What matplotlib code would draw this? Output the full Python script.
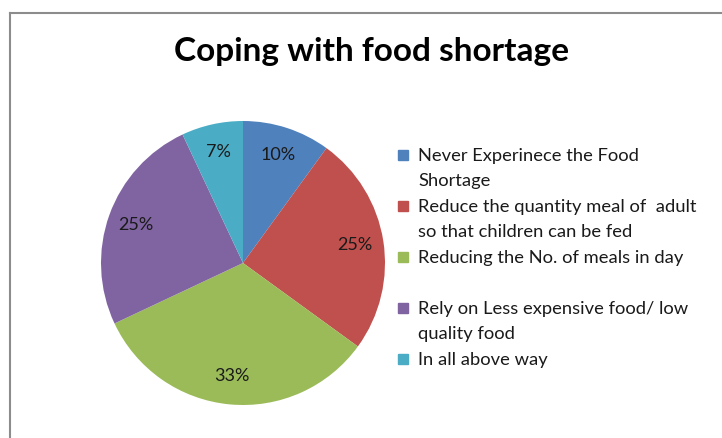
import matplotlib
matplotlib.use("Agg")
import matplotlib.pyplot as plt
from matplotlib.lines import Line2D
from matplotlib.patches import Rectangle

categories = [
    "Never Experinece the Food\nShortage",
    "Reduce the quantity meal of  adult\nso that children can be fed",
    "Reducing the No. of meals in day",
    "Rely on Less expensive food/ low\nquality food",
    "In all above way",
]
shares = [10, 25, 33, 25, 7]
colors = ["#4F81BD", "#C0504D", "#9BBB59", "#8064A2", "#4BACC6"]
title = "Coping with food shortage"

W, H = 722, 438
fig = plt.figure(figsize=(W / 100, H / 100), dpi=100)
plt.rcParams["font.family"] = ["Lato", "DejaVu Sans"]

# chart-area border (left and top edges visible)
fig.add_artist(Line2D([9.5 / W, 9.5 / W], [0, 1 - 12.5 / H], color="#8c8c8c", lw=1.5,
                      transform=fig.transFigure))
fig.add_artist(Line2D([9.5 / W, 1], [1 - 12.5 / H, 1 - 12.5 / H], color="#8c8c8c", lw=1.5,
                      transform=fig.transFigure))

cx, cy, r = 243, 263, 142
ax = fig.add_axes([(cx - r) / W, (H - cy - r) / H, 2 * r / W, 2 * r / H])
wedges, texts, autotexts = ax.pie(
    shares, colors=colors, startangle=90, counterclock=False,
    autopct=lambda p: f"{p:.0f}%", pctdistance=0.8,
    wedgeprops=dict(linewidth=0), textprops=dict(fontsize=13, color="#1a1a1a"))
ax.set_xlim(-1, 1)
ax.set_ylim(-1, 1)
ax.set_aspect("auto")
ax.axis("off")

fig.text(372 / W, 1 - 52 / H, title, ha="center", va="center",
         fontsize=24, fontweight="bold", color="black")

# legend, one slot per category
x_box, x_txt = 403, 418
y0, step = 155, 51
for i, (lab, col) in enumerate(zip(categories, colors)):
    yc = y0 + i * step
    fig.add_artist(Rectangle(((x_box - 5) / W, 1 - (yc + 5) / H), 10 / W, 10 / H,
                             color=col, transform=fig.transFigure))
    fig.text(x_txt / W, 1 - (yc - 7) / H, lab, ha="left", va="top",
             fontsize=13.2, color="#1a1a1a", linespacing=1.68)

fig.savefig("out.png", dpi=100)
